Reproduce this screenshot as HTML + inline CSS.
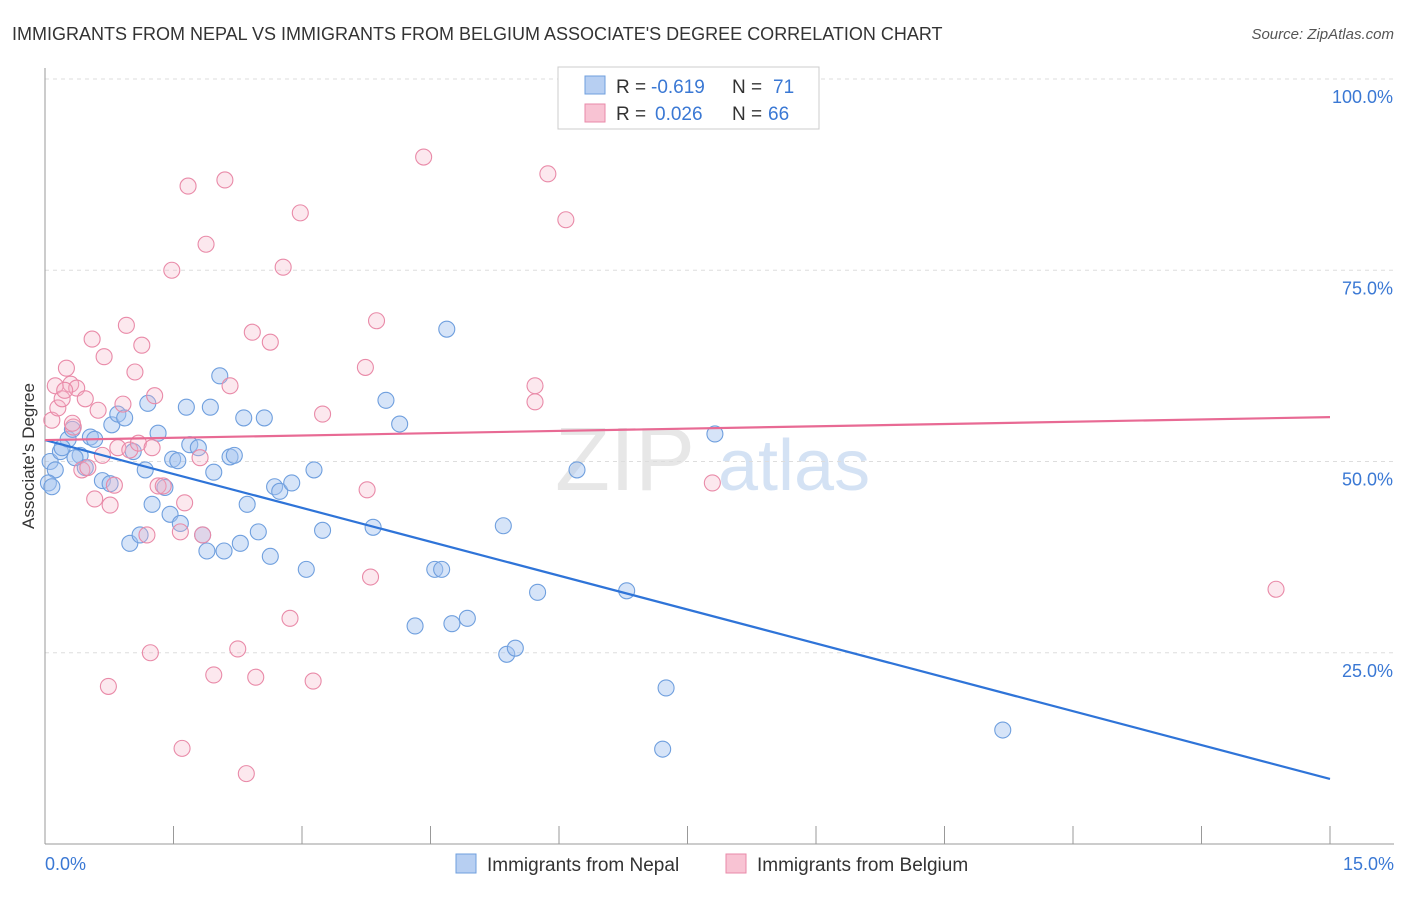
<!DOCTYPE html>
<html><head><meta charset="utf-8"><style>
body{margin:0;background:#fff;font-family:"Liberation Sans",sans-serif}
svg text{font-family:"Liberation Sans",sans-serif}
</style></head><body>
<svg id="c" width="1406" height="892" xmlns="http://www.w3.org/2000/svg">
<text x="12" y="40" font-size="18" fill="#333">IMMIGRANTS FROM NEPAL VS IMMIGRANTS FROM BELGIUM ASSOCIATE'S DEGREE CORRELATION CHART</text>
<text x="1394" y="39" font-size="15" fill="#555" text-anchor="end" font-style="italic">Source: ZipAtlas.com</text>
<text x="34" y="456" font-size="17" fill="#333" text-anchor="middle" transform="rotate(-90 34 456)">Associate's Degree</text>
<g><text x="555" y="490" font-size="90" fill="#d8d8d8" font-family="Liberation Serif" opacity="0.6">ZIP</text><text x="718" y="490" font-size="72" fill="#b8d0ee" opacity="0.6">atlas</text></g>
<g id="grid"></g><g id="axes"></g><g id="pts"></g><g id="trend"></g>
<g>
<rect x="558" y="67" width="261" height="62" fill="#fff" stroke="#ccc"/>
<rect x="585" y="76" width="20" height="18" fill="#b7cff2" stroke="#6f9fde"/>
<rect x="585" y="104" width="20" height="18" fill="#f8c3d3" stroke="#e98aa8"/>
<text x="616" y="93" font-size="19" fill="#333">R =</text><text x="651" y="93" font-size="19" fill="#3a78d4">-0.619</text>
<text x="732" y="93" font-size="19" fill="#333">N =</text><text x="773" y="93" font-size="19" fill="#3a78d4">71</text>
<text x="616" y="120" font-size="19" fill="#333">R =</text><text x="655" y="120" font-size="19" fill="#3a78d4">0.026</text>
<text x="732" y="120" font-size="19" fill="#333">N =</text><text x="768" y="120" font-size="19" fill="#3a78d4">66</text>
</g>
<g>
<rect x="456" y="854" width="20" height="19" fill="#b7cff2" stroke="#6f9fde"/>
<text x="487" y="871" font-size="19" fill="#333">Immigrants from Nepal</text>
<rect x="726" y="854" width="20" height="19" fill="#f8c3d3" stroke="#e98aa8"/>
<text x="757" y="871" font-size="19" fill="#333">Immigrants from Belgium</text>
</g>
</svg>
<script>
const yTicks=[25,50,75,100];
const yTickLabels=["25.0%","50.0%","75.0%","100.0%"];
const xLabels=["0.0%","15.0%"];
const nepalTrend=[52.8,8.5];
const belgiumTrend=[52.8,55.8];
const nepalX=[0.06,0.12,0.18,0.27,0.32,0.41,0.47,0.53,0.58,0.67,0.76,0.78,0.85,0.93,0.99,1.03,1.11,1.17,1.20,1.25,1.32,1.40,1.46,1.49,1.55,1.58,1.65,1.69,1.79,1.84,1.89,1.93,1.97,2.04,2.09,2.16,2.21,2.28,2.32,2.36,2.49,2.56,2.63,2.68,2.74,2.88,3.05,3.14,3.24,3.83,3.98,4.14,4.32,4.55,4.63,4.69,4.75,4.93,5.35,5.39,5.49,5.75,6.21,6.79,7.21,7.25,7.82,11.18,0.04,0.08,0.20,0.35];
const nepalY=[50.0,48.9,51.3,52.9,54.2,50.8,49.2,53.2,52.9,47.5,47.1,54.8,56.2,55.7,39.3,51.3,40.4,48.9,57.6,44.4,53.7,46.6,43.1,50.3,50.1,41.9,57.1,52.2,51.8,40.4,38.3,57.1,48.6,61.2,38.3,50.6,50.8,39.3,55.7,44.4,40.8,55.7,37.6,46.7,46.1,47.2,35.9,48.9,41.0,41.4,58.0,54.9,28.5,35.9,35.9,67.3,28.8,29.5,41.6,24.8,25.6,32.9,48.9,33.1,12.4,20.4,53.6,14.9,47.2,46.7,51.8,50.5];
const belgiumX=[0.08,0.12,0.15,0.20,0.25,0.30,0.33,0.37,0.43,0.47,0.50,0.55,0.58,0.62,0.67,0.69,0.74,0.76,0.81,0.85,0.91,0.95,0.99,1.05,1.09,1.13,1.19,1.23,1.25,1.28,1.32,1.38,1.48,1.58,1.60,1.63,1.67,1.81,1.84,1.88,1.97,2.10,2.16,2.25,2.35,2.42,2.46,2.63,2.78,2.86,2.98,3.13,3.24,3.74,3.76,3.80,3.87,4.42,5.72,5.72,5.87,6.08,7.79,14.37,0.23,0.32];
const belgiumY=[55.4,59.9,57.0,58.2,62.2,60.1,54.5,59.6,48.9,58.2,49.2,66.0,45.1,56.7,50.8,63.7,20.6,44.3,46.9,51.8,57.5,67.8,51.5,61.7,52.4,65.2,40.4,25.0,51.8,58.6,46.8,46.8,75.0,40.8,12.5,44.6,86.0,50.5,40.4,78.4,22.1,86.8,59.9,25.5,9.2,66.9,21.8,65.6,75.4,29.5,82.5,21.3,56.2,62.3,46.3,34.9,68.4,89.8,59.9,57.8,87.6,81.6,47.2,33.3,59.3,55.0];
const X0=45,X1=1330,Y0=844,Y100=79;
const sx=v=>X0+(X1-X0)*v/15, sy=v=>Y0-(Y0-Y100)*v/100;
const NS="http://www.w3.org/2000/svg";
function mk(p,t,a){const e=document.createElementNS(NS,t);for(const k in a)e.setAttribute(k,a[k]);document.getElementById(p).appendChild(e);return e;}
yTicks.forEach((v,i)=>{
 const g=mk('grid','line',{x1:X0,x2:1394,y1:sy(v),y2:sy(v),stroke:'#ddd','stroke-dasharray':'4 4'});
 
 
 const t=mk('axes','text',{x:1393,y:sy(v)+24,'font-size':18,fill:'#3a78d4','text-anchor':'end'});t.textContent=yTickLabels[i];
 
 
});
let a=mk('axes','line',{x1:X0,x2:X0,y1:68,y2:Y0,stroke:'#999'});


a=mk('axes','line',{x1:X0,x2:1394,y1:Y0,y2:Y0,stroke:'#999'});


for(let i=1;i<=10;i++){const t=mk('axes','line',{x1:sx(i*1.5),x2:sx(i*1.5),y1:Y0,y2:826,stroke:'#999'});
 
 }
[[45,'start',0],[1394,'end',1]].forEach(([x,an,i])=>{const t=mk('axes','text',{x:x,y:870,'font-size':18,fill:'#3a78d4','text-anchor':an});t.textContent=xLabels[i];
 
 });
function dots(X,Y,fill,stroke,name){X.forEach((x,i)=>{const c=mk('pts','circle',{cx:sx(x),cy:sy(Y[i]),r:8,fill:fill,stroke:stroke,'stroke-width':1.1});
 
 });}
dots(nepalX,nepalY,'rgba(164,196,240,0.45)','#6f9fde','nepal-point');
dots(belgiumX,belgiumY,'rgba(246,178,200,0.3)','#e98aa8','belgium-point');
function tl(T,col,name){const l=mk('trend','line',{x1:sx(0),y1:sy(T[0]),x2:sx(15),y2:sy(T[1]),stroke:col,'stroke-width':2.2});
 
 }
tl(nepalTrend,'#2f74d8','nepal-trend-line');
tl(belgiumTrend,'#e86a94','belgium-trend-line');
</script>
</body></html>
